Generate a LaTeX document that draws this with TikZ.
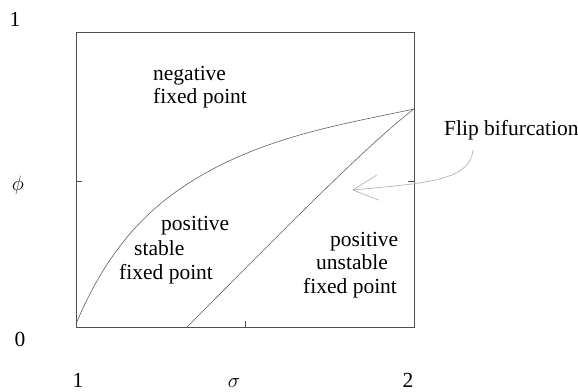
\documentclass[tikz,border=0pt]{standalone}
\usepackage{fontspec}
\setmainfont{Liberation Serif}
\usetikzlibrary{arrows.meta}
\definecolor{framec}{HTML}{505050}
\definecolor{curvec}{HTML}{606060}
\definecolor{arrowc}{HTML}{B4B4B4}
\tikzset{
  lbl/.style={inner sep=0pt, anchor=base west, font=\fontsize{21.5}{24}\selectfont},
  axl/.style={inner sep=0pt, anchor=base, font=\fontsize{21.5}{24}\selectfont},
  frame/.style={draw=framec, line width=0.9pt},
  bcurve/.style={draw=curvec, line width=0.6pt},
  flip/.style={draw=arrowc, line width=0.7pt, -{Straight Barb[length=25pt,width=25pt,line width=0.7pt]}}
}
\begin{document}
\begin{tikzpicture}[x=1pt,y=-1pt]
\useasboundingbox (0,0) rectangle (578,391);
% frame
\coordinate (bl) at (76,327);
\coordinate (tr) at (414,32);
\draw[frame] (bl) rectangle (tr);
\draw[frame, line width=0.6pt] (76,181) -- (82,181);
\draw[frame, line width=0.6pt] (414,181) -- (408,181);
\draw[frame, line width=0.6pt] (245,327) -- (245,321);
% boundary curves
\coordinate (c1s) at (76,324);
\coordinate (c1m) at (197,178);
\coordinate (flippt) at (414,109);
\coordinate (c2s) at (187,327);
\draw[bcurve] (c1s) .. controls (111,240) and (157,202) .. (c1m)
                    .. controls (267,136) and (344,124) .. (flippt);
\draw[bcurve] (c2s) .. controls (267,247) and (364,147) .. (flippt);
% region labels
\node[lbl] (neg1) at (153,80) {negative};
\node[lbl] (neg2) at (153,103) {fixed point};
\node[lbl] (ps1) at (161,230) {positive};
\node[lbl] (ps2) at (134,255) {stable};
\node[lbl] (ps3) at (119,279) {fixed point};
\node[lbl] (pu1) at (330,246) {positive};
\node[lbl] (pu2) at (316,269) {unstable};
\node[lbl] (pu3) at (303,293) {fixed point};
\node[lbl] (flipl) at (444,135) {Flip bifurcation};
% axis labels
\node[axl] (y1) at (15,26) {1};
\node[axl] (y0) at (20,346) {0};
\node[axl] (phi) at (18,190) {$\phi$};
\node[axl] (x1) at (78,387) {1};
\node[axl] (sig) at (234,387) {$\sigma$};
\node[axl] (x2) at (408,387) {2};
% flip arrow
\coordinate (fs) at (473,150);
\coordinate (ft) at (352,190);
\draw[flip] (fs) .. controls (470,180) and (430,183) .. (ft);
\end{tikzpicture}
\end{document}
